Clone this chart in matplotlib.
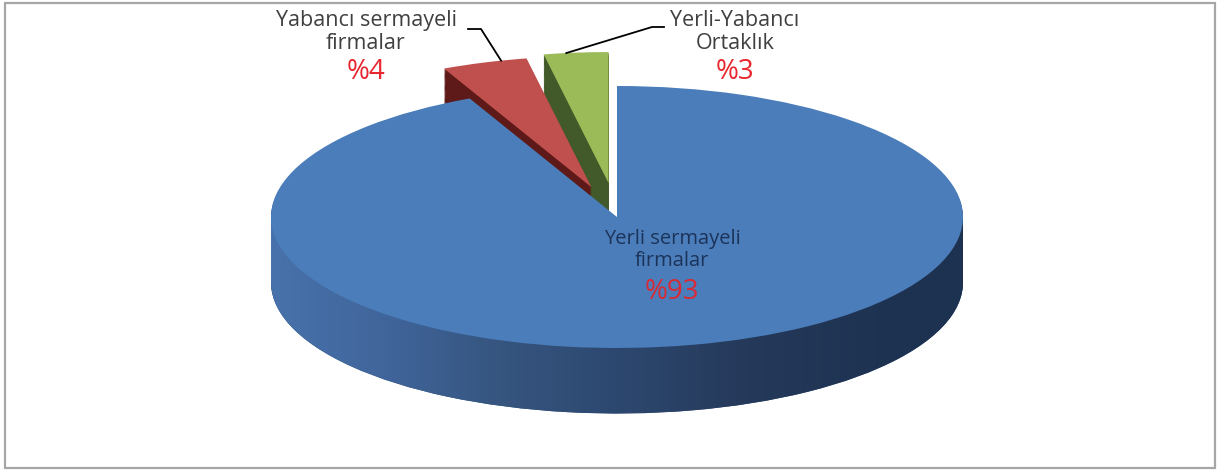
import numpy as np
import matplotlib.pyplot as plt
from matplotlib.colors import LinearSegmentedColormap
from matplotlib.patches import Rectangle

plt.rcParams['font.family'] = ['Open Sans', 'DejaVu Sans']

# data
labels = ['Yerli sermayeli\nfirmalar', 'Yabancı sermayeli\nfirmalar', 'Yerli-Yabancı\nOrtaklık']
shares = [93, 4, 3]
share_text = ['%93', '%4', '%3']
explode = [0.0, 0.24, 0.26]

top_colors = ['#4a7dba', '#c0504d', '#9bbb59']
side_colors = ['#34547f', '#5e1a18', '#42592a']

W, H = 1224, 471
CX, CY = 617, 217      # pie centre (pixels from top-left)
RX, RY = 346, 131      # ellipse radii in pixels
DEPTH = 0.5            # thickness of the pie, in y units

fig = plt.figure(figsize=(W / 100, H / 100), dpi=100)
ax = fig.add_axes([0, 0, 1, 1])


def to_data(px, py):
    return (px - CX) / RX, (CY - py) / RY


pie_kw = dict(startangle=90, counterclock=False, explode=explode, radius=1)

# side walls: stack of darker pies, bottom first
n_layers = 60
bottom = None
for k in range(n_layers, 0, -1):
    w, _ = ax.pie(shares, colors=side_colors, center=(0, -DEPTH * k / n_layers),
                  wedgeprops=dict(linewidth=0, zorder=1), **pie_kw)
    if bottom is None:
        bottom = w

# horizontal shading on the blue wall
side_cmap = LinearSegmentedColormap.from_list('side', [
    (0.0, '#4872ab'), (0.165, '#40659b'), (0.33, '#36557f'), (0.475, '#2e4a72'),
    (0.69, '#25395a'), (0.875, '#1e3252'), (1.0, '#1d3150')])
grad = np.linspace(0, 1, 256).reshape(1, -1)
rect = Rectangle((-1, -DEPTH), 2, DEPTH, transform=ax.transData)
for clip in (bottom[0], rect):
    im = ax.imshow(grad, cmap=side_cmap, extent=(-1, 1, -DEPTH - 1.05, 0.0),
                   aspect='auto', zorder=1.5, interpolation='bilinear')
    im.set_clip_path(clip)

# top faces
tops, _ = ax.pie(shares, colors=top_colors, center=(0, 0),
                 wedgeprops=dict(linewidth=0, zorder=2), **pie_kw)

ax.set_aspect('auto')
ax.set_xlim(-CX / RX, (W - CX) / RX)
ax.set_ylim(-(H - CY) / RY, CY / RY)
ax.axis('off')

name_color = '#404040'
pct_color = '#e8262d'


def put(px, py, s, **kw):
    x, y = to_data(px, py)
    ax.text(x, y, s, ha='center', va='center', zorder=5, **kw)


# data labels
put(672, 250, labels[0], fontsize=14.5, color='#1c335a', linespacing=1.15)
put(672, 292, share_text[0], fontsize=20, color='#d92a35')
put(366, 32, labels[1], fontsize=15.5, color=name_color, linespacing=1.1)
put(366, 72, share_text[1], fontsize=20, color=pct_color)
put(735, 32, labels[2], fontsize=15.5, color=name_color, linespacing=1.1)
put(735, 72, share_text[2], fontsize=20, color=pct_color)


# leader lines
def arc_point(wedge, frac):
    a = np.deg2rad(wedge.theta1 + frac * (wedge.theta2 - wedge.theta1))
    cx, cy = wedge.center
    return cx + wedge.r * np.cos(a), cy + wedge.r * np.sin(a)


rx, ry = arc_point(tops[1], 0.3)
k1, k2 = to_data(468, 29), to_data(481, 29)
ax.plot([k1[0], k2[0], rx], [k1[1], k2[1], ry], color='black', lw=1.3, zorder=4)
gx, gy = arc_point(tops[2], 0.65)
k1, k2 = to_data(652, 27), to_data(664, 27)
ax.plot([gx, k1[0], k2[0]], [gy, k1[1], k2[1]], color='black', lw=1.3, zorder=4)

# chart frame
fig.add_artist(Rectangle((5 / W, 3 / H), 1210 / W, 465 / H, transform=fig.transFigure,
                         fill=False, edgecolor='#a6a6a6', lw=1.6))

fig.savefig('out.png', dpi=100)
